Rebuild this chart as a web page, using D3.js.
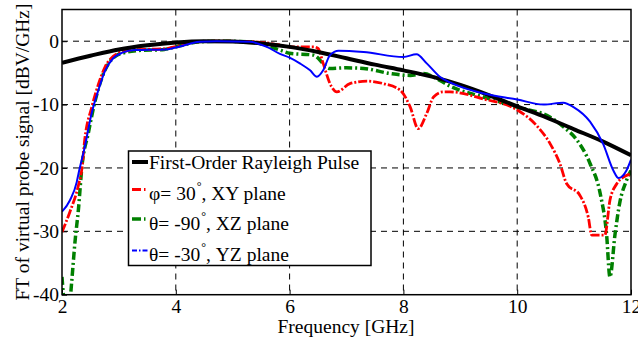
<!DOCTYPE html>
<html>
<head>
  <meta charset="utf-8">
  <script src="https://d3js.org/d3.v7.min.js"></script>
  <style>
    body { margin: 0; background: #fff; }
    text { font-family: "Liberation Serif", "Times New Roman", serif; fill: #000; }
  </style>
</head>
<body>
<script>
  // tick values
  var xTicks = [2, 4, 6, 8, 10, 12];
  var yTicks = [0, -10, -20, -30, -40];

  // First-Order Rayleigh Pulse
  var rayFreq = [2, 2.5, 3, 3.5, 4, 4.5, 5, 5.5, 6, 6.5, 7, 7.5, 8, 8.5, 9, 9.5, 10, 10.5, 11, 11.5, 12];
  var rayDb   = [-3.4, -2.3, -1.3, -0.65, -0.2, 0, -0.05, -0.35, -0.9, -1.7, -2.7, -3.7, -4.6, -5.6, -6.9, -8.5, -10.3, -12.0, -13.9, -15.8, -18.0];

  // phi = 30, XY plane
  var xyFreq = [2, 2.14, 2.29, 2.35, 2.4, 2.52, 2.64, 2.76, 2.9, 3.05, 3.28, 3.81, 4.0, 4.42, 4.72, 5.3, 5.83, 6.0, 6.42, 6.5, 6.59, 6.71, 6.83, 7.06, 7.36, 7.65, 7.94, 8.12, 8.26, 8.41, 8.53, 8.7, 8.82, 9.4, 10.01, 10.34, 10.58, 10.75, 10.87, 11.1, 11.25, 11.31, 11.54, 11.63, 11.75, 11.92, 12];
  var xyDb   = [-30.1, -26.9, -22.7, -20.1, -15.5, -10.5, -6.8, -4.0, -2.4, -1.7, -1.35, -1.2, -0.85, -0.05, 0, -0.05, -0.6, -0.9, -0.9, -1.15, -3.5, -6.7, -8.0, -6.7, -6.3, -6.7, -7.7, -10.4, -13.8, -11.4, -8.8, -8.0, -8.0, -9.1, -10.9, -13.3, -16.2, -19.3, -22.5, -24.3, -27.8, -30.6, -30.6, -25.1, -22.5, -21.2, -20.9];

  // theta = -90, XZ plane
  var xzFreq = [2, 2.04, 2.1, 2.14, 2.17, 2.23, 2.29, 2.35, 2.46, 2.58, 2.7, 2.82, 2.95, 3.1, 3.3, 3.8, 4.0, 4.42, 4.72, 5.3, 5.83, 6.0, 6.42, 6.71, 7.0, 7.3, 7.77, 8.12, 8.35, 8.64, 8.82, 9.4, 10.0, 10.58, 10.81, 11.05, 11.28, 11.46, 11.57, 11.63, 11.72, 11.8, 11.92, 12];
  var xzDb   = [-37.2, -41, -42, -41, -38, -31.5, -26.4, -19.8, -14.6, -9.5, -5.8, -3.5, -2.3, -1.8, -1.5, -1.3, -0.9, -0.1, 0, -0.1, -1.4, -1.9, -2.2, -4.3, -4.2, -4.3, -5.1, -5.4, -5.1, -6.2, -7.1, -8.8, -10.4, -12.0, -13.5, -15.6, -19.3, -24.1, -30.4, -37.2, -30.4, -25.6, -22.0, -20.4];

  // theta = -30, YZ plane
  var yzFreq = [2, 2.14, 2.26, 2.29, 2.4, 2.52, 2.64, 2.76, 2.9, 3.05, 3.28, 3.81, 4.0, 4.42, 4.72, 5.3, 5.6, 5.83, 6.0, 6.18, 6.36, 6.48, 6.59, 6.71, 6.86, 7.3, 8.0, 8.23, 8.41, 8.64, 8.82, 9.43, 10.0, 10.46, 10.81, 10.99, 11.28, 11.51, 11.69, 11.78, 11.92, 12];
  var yzDb   = [-26.9, -25.1, -22.2, -20.9, -16.7, -11.4, -7.7, -4.6, -2.7, -1.85, -1.4, -1.3, -1.0, -0.1, 0, -0.1, -0.9, -2.0, -2.6, -3.5, -4.6, -5.6, -4.6, -2.2, -1.5, -1.7, -2.5, -2.05, -3.5, -5.6, -6.5, -8.3, -9.2, -10.0, -9.7, -10.4, -12.7, -16.2, -20.4, -21.6, -20.4, -18.7];

  var width = 638, height = 338;
  var plotL = 62, plotR = 631, plotT = 9.5, plotB = 294.7;

  var svg = d3.select("body").append("svg")
      .attr("width", width)
      .attr("height", height);

  svg.append("rect").attr("width", width).attr("height", height).attr("fill", "#fff");

  var x = d3.scaleLinear().domain([2, 12]).range([plotL, plotR]);
  var y = d3.scaleLinear().domain([-40, 5]).range([plotB, plotT]);

  svg.append("clipPath").attr("id", "plot")
    .append("rect")
      .attr("x", plotL).attr("y", plotT)
      .attr("width", plotR - plotL).attr("height", plotB - plotT);

  // grid
  var grid = svg.append("g");
  grid.selectAll(".vg")
      .data(xTicks.slice(1, -1))
      .enter().append("line")
      .attr("x1", function(d) { return x(d); })
      .attr("x2", function(d) { return x(d); })
      .attr("y1", plotT).attr("y2", plotB)
      .attr("stroke", "#000").attr("stroke-width", 1)
      .attr("stroke-dasharray", "6,5");
  grid.selectAll(".hg")
      .data(yTicks.slice(0, -1))
      .enter().append("line")
      .attr("x1", plotL).attr("x2", plotR)
      .attr("y1", function(d) { return y(d); })
      .attr("y2", function(d) { return y(d); })
      .attr("stroke", "#000").attr("stroke-width", 1)
      .attr("stroke-dasharray", "6,5");

  // axes (plain hyphen minus like the original)
  var fmt = function(d) { return String(d); };
  var xAxis = d3.axisBottom(x).tickValues(xTicks).tickFormat(fmt).tickSize(-5).tickPadding(4);
  var yAxis = d3.axisLeft(y).tickValues(yTicks).tickFormat(fmt).tickSize(-5).tickPadding(3);

  var gx = svg.append("g").attr("transform", "translate(0," + plotB + ")").call(xAxis);
  var gy = svg.append("g").attr("transform", "translate(" + plotL + ",0)").call(yAxis);
  [gx, gy].forEach(function(g) {
    g.select(".domain").remove();
    g.selectAll(".tick line").attr("stroke", "#000");
    g.selectAll("text").style("font-family", "'Liberation Serif', serif").style("font-size", "19.5px").attr("fill", "#000");
  });

  // curves
  var line = d3.line()
      .x(function(d) { return x(d[0]); })
      .y(function(d) { return y(d[1]); })
      .curve(d3.curveMonotoneX);

  function pairs(fs, vs) { return fs.map(function(f, i) { return [f, vs[i]]; }); }

  var series = [
    { name: "xz", data: pairs(xzFreq, xzDb), color: "#008000", w: 3.5, dash: "8,3,2,3" },
    { name: "xy", data: pairs(xyFreq, xyDb), color: "#ff0000", w: 2.8, dash: "9,2,2,2" },
    { name: "ray", data: pairs(rayFreq, rayDb), color: "#000000", w: 4, dash: null },
    { name: "yz", data: pairs(yzFreq, yzDb), color: "#0000ff", w: 2, dash: null }
  ];

  var plot = svg.append("g").attr("clip-path", "url(#plot)");
  series.forEach(function(s) {
    plot.append("path")
      .datum(s.data)
      .attr("d", line)
      .attr("fill", "none")
      .attr("stroke", s.color)
      .attr("stroke-width", s.w)
      .attr("stroke-linejoin", "round")
      .attr("stroke-dasharray", s.dash);
  });

  // frame
  svg.append("rect")
      .attr("x", plotL).attr("y", plotT)
      .attr("width", plotR - plotL).attr("height", plotB - plotT)
      .attr("fill", "none").attr("stroke", "#000").attr("stroke-width", 1.5);

  // axis titles
  svg.append("text")
      .attr("x", 346).attr("y", 333)
      .attr("text-anchor", "middle")
      .style("font-size", "19.5px")
      .text("Frequency [GHz]");
  svg.append("text")
      .attr("transform", "translate(29,152) rotate(-90)")
      .attr("text-anchor", "middle")
      .style("font-size", "19.5px")
      .text("FT of virtual probe signal [dBV/GHz]");

  // legend
  var leg = svg.append("g");
  leg.append("rect")
      .attr("x", 128.5).attr("y", 151)
      .attr("width", 242.5).attr("height", 114.5)
      .attr("fill", "#fff").attr("stroke", "#000").attr("stroke-width", 1.5);

  var legItems = [
    { c: "#000000", w: 4, dash: null, ly: 162, ty: 168.5, pre: "First-Order Rayleigh Pulse", post: "" },
    { c: "#ff0000", w: 3, dash: "9,3,1.5,3", ly: 189.5, ty: 199.5, pre: "\u03c6= 30", post: ", XY plane" },
    { c: "#008000", w: 3.5, dash: "9,3,1.5,3", ly: 219, ty: 229.5, pre: "\u03b8= -90", post: ", XZ plane" },
    { c: "#0000ff", w: 2, dash: "5,2,1.5,2", ly: 250.5, ty: 260.5, pre: "\u03b8= -30", post: ", YZ plane" }
  ];

  legItems.forEach(function(it, i) {
    leg.append("line")
      .attr("x1", 132).attr("x2", 148)
      .attr("y1", it.ly).attr("y2", it.ly)
      .attr("stroke", it.c).attr("stroke-width", it.w)
      .attr("stroke-dasharray", it.dash);
    var t = leg.append("text")
      .attr("x", 149).attr("y", it.ty)
      .style("font-size", "19.5px");
    t.append("tspan").text(it.pre);
    if (i > 0) {
      t.append("tspan").attr("dx", 1).attr("dy", -10).style("font-size", "12px").text("\u00b0");
      t.append("tspan").attr("dy", 10).text(it.post);
    }
  });
</script>
</body>
</html>
